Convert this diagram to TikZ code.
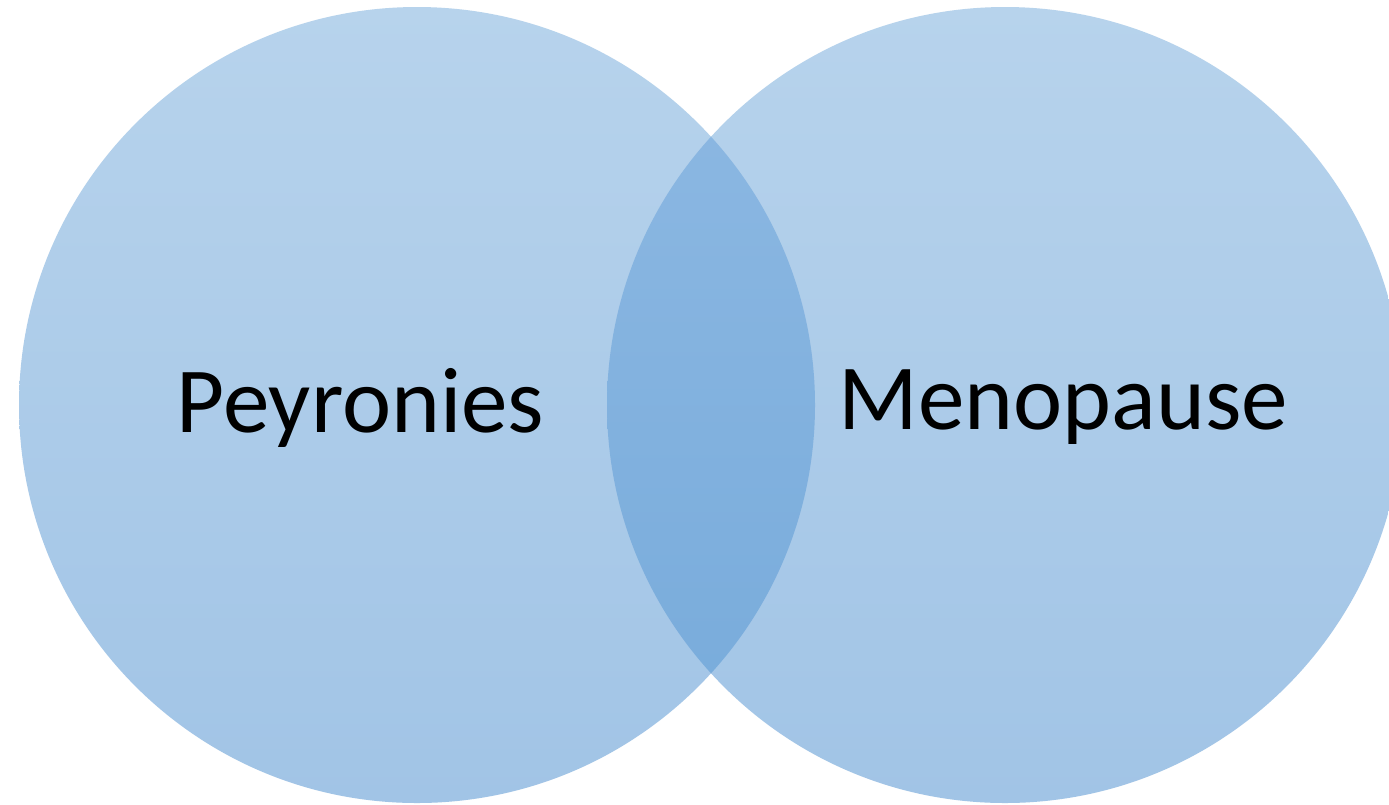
\documentclass[tikz,border=0pt]{standalone}
\usepackage{fontspec}
\setmainfont{Carlito}
\definecolor{ctop}{HTML}{B7D3EC}
\definecolor{cbot}{HTML}{A1C4E6}
\definecolor{ltop}{HTML}{8EB9E3}
\definecolor{lbot}{HTML}{76AADA}
\tikzset{
  setcircle/.style={top color=ctop, bottom color=cbot, draw=none},
  lens/.style={top color=ltop, bottom color=lbot, draw=none},
  label/.style={font=\fontsize{26.5}{30}\selectfont, text=black, inner sep=0pt}
}
\begin{document}
\begin{tikzpicture}
\useasboundingbox (0,0) rectangle (13.89,8.04);
\fill[white] (0,0) rectangle (13.89,8.04);
\coordinate (cl) at (4.17,3.99);
\coordinate (cr) at (10.05,3.99);
\begin{scope}
\clip (0,0) rectangle (13.89,8.04);
\shade[setcircle] (cl) circle (3.98);
\shade[setcircle] (cr) circle (3.98);
\begin{scope}
\clip (cl) circle (3.98);
\shade[lens] (cr) circle (3.98);
\end{scope}
\end{scope}
\node[label] (p) at (3.605,3.965) {Peyronies};
\node[label] (m) at (10.635,3.965) {Menopause};
\end{tikzpicture}
\end{document}
